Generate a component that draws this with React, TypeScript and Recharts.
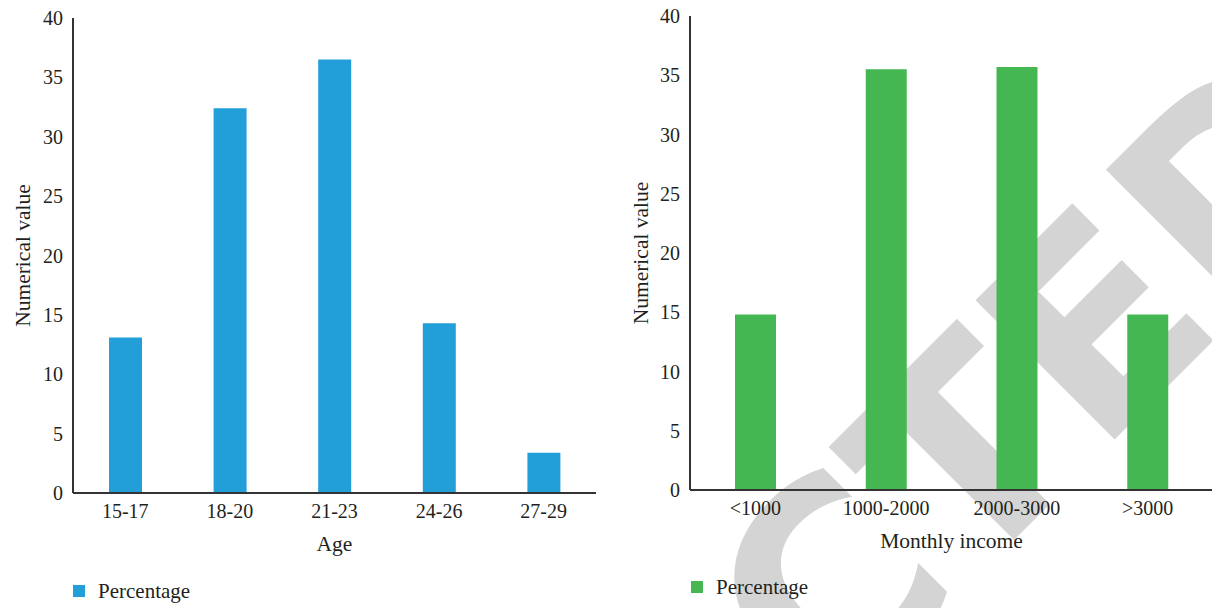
import React from 'react';
import { BarChart, Bar, XAxis, YAxis, Legend } from 'recharts';

// Age distribution of respondents (percentage)
const ageCategories = ['15-17', '18-20', '21-23', '24-26', '27-29'];
const agePercent = [13.1, 32.4, 36.5, 14.3, 3.4];

// Monthly income distribution of respondents (percentage)
const incomeCategories = ['<1000', '1000-2000', '2000-3000', '>3000'];
const incomePercent = [14.8, 35.5, 35.7, 14.8];

const yTicks = [0, 5, 10, 15, 20, 25, 30, 35, 40];

const ageData = ageCategories.map((c, i) => ({ cat: c, value: agePercent[i] }));
const incomeData = incomeCategories.map((c, i) => ({ cat: c, value: incomePercent[i] }));

const FONT = '"Liberation Serif", "Times New Roman", serif';
const TEXT = '#231f20';
const AXIS = '#333333';
const BLUE = '#229fd9';
const GREEN = '#44b752';

const makeLegend = (color: string) => () => (
  <div style={{ display: 'flex', alignItems: 'center', fontFamily: FONT, fontSize: 21, color: TEXT, lineHeight: '24px' }}>
    <span style={{ display: 'inline-block', width: 12, height: 12, background: color, marginRight: 13 }} />
    <span>Percentage</span>
  </div>
);

type PanelProps = {
  data: { cat: string; value: number }[];
  color: string;
  xTitle: string;
  width: number;
  top: number;
  right: number;
  bottom: number;
  yAxisWidth: number;
  yLabelOffset: number;
  barSize: number;
  legendLeft: number;
  legendTop: number;
};

const Panel = (p: PanelProps) => (
  <BarChart width={p.width} height={608} data={p.data} margin={{ top: p.top, right: p.right, bottom: p.bottom, left: 0 }}>
    <XAxis
      dataKey="cat"
      interval={0}
      tickLine={false}
      tickMargin={5}
      height={70}
      axisLine={{ stroke: AXIS, strokeWidth: 2 }}
      tick={{ fill: TEXT, fontSize: 20, fontFamily: FONT }}
      label={{ value: p.xTitle, position: 'insideBottom', offset: 12, fill: TEXT, fontSize: 21.5, fontFamily: FONT }}
    />
    <XAxis xAxisId="top" orientation="top" dataKey="cat" height={0} tick={false} tickLine={false} axisLine={{ stroke: AXIS, strokeWidth: 1.5 }} />
    <YAxis
      domain={[0, 40]}
      ticks={yTicks}
      width={p.yAxisWidth}
      tickLine={false}
      tickMargin={4}
      axisLine={{ stroke: AXIS, strokeWidth: 2 }}
      tick={{ fill: TEXT, fontSize: 20, fontFamily: FONT }}
      label={{
        value: 'Numerical value',
        angle: -90,
        position: 'insideLeft',
        offset: p.yLabelOffset,
        fill: TEXT,
        fontSize: 21.5,
        fontFamily: FONT,
        style: { textAnchor: 'middle' },
      }}
    />
    <YAxis yAxisId="right" orientation="right" domain={[0, 40]} width={0} tick={false} tickLine={false} axisLine={{ stroke: AXIS, strokeWidth: 1.5 }} />
    <Bar dataKey="value" fill={p.color} barSize={p.barSize} isAnimationActive={false} />
    <Legend
      verticalAlign="bottom"
      content={makeLegend(p.color)}
      wrapperStyle={{ position: 'absolute', left: p.legendLeft, top: p.legendTop, bottom: 'auto', width: 220, height: 30 }}
    />
  </BarChart>
);

export default function App() {
  return (
    <div style={{ position: 'absolute', left: 0, top: 0, width: 1212, height: 608, overflow: 'hidden', background: '#ffffff', fontFamily: FONT }}>
      {/* diagonal watermark behind both panels */}
      <svg width={1212} height={608} style={{ position: 'absolute', left: 0, top: 0 }}>
        <text
          x={1386}
          y={168}
          transform="rotate(-45 1386 168)"
          textAnchor="end"
          fontFamily='"DejaVu Sans", sans-serif'
          fontWeight="bold"
          fontSize={270}
          fill="#d4d4d4"
        >
          RETRACTED
        </text>
      </svg>
      <div style={{ position: 'absolute', left: 0, top: 0 }}>
        <Panel
          data={ageData}
          color={BLUE}
          xTitle="Age"
          width={600}
          top={18}
          right={4}
          bottom={15}
          yAxisWidth={73}
          yLabelOffset={22}
          barSize={33}
          legendLeft={73}
          legendTop={579}
        />
      </div>
      <div style={{ position: 'absolute', left: 612, top: 0 }}>
        <Panel
          data={incomeData}
          color={GREEN}
          xTitle="Monthly income"
          width={620}
          top={16}
          right={19}
          bottom={18}
          yAxisWidth={78}
          yLabelOffset={28}
          barSize={41}
          legendLeft={79}
          legendTop={575}
        />
      </div>
    </div>
  );
}
